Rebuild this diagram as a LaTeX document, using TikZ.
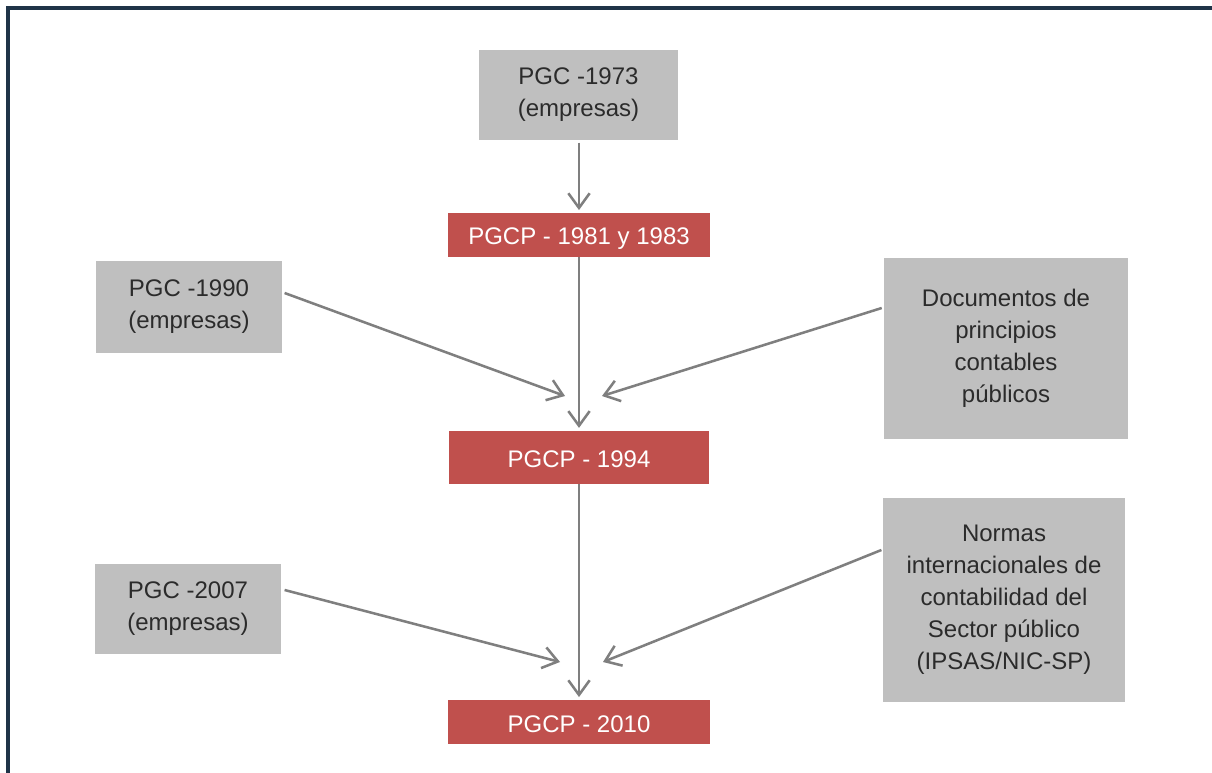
\documentclass[tikz,border=0pt]{standalone}
\usepackage{fontspec}
\setmainfont{Liberation Sans}
\usetikzlibrary{arrows.meta}
\definecolor{boxgray}{HTML}{BFBFBF}
\definecolor{boxred}{HTML}{C0504D}
\definecolor{linegray}{HTML}{7F7F7F}
\definecolor{textgray}{HTML}{2B2B2B}
\definecolor{framenavy}{HTML}{1F3448}
\begin{document}
\begin{tikzpicture}[
  x=0.75pt, y=-0.75pt,
  every node/.style={align=center, inner sep=0pt, font=\fontsize{18}{24}\selectfont},
  graybox/.style={fill=boxgray, text=textgray},
  redbox/.style={fill=boxred, text=white, text height=17pt, text depth=2pt},
  flow/.style={draw=linegray, line width=1.9pt, -{Straight Barb[length=11pt, width=16pt, line width=1.9pt]}}
]
\useasboundingbox (0,0) rectangle (1212,773);
\draw[framenavy, line width=2.3pt] (8,773) -- (8,8) -- (1212,8);

\node[graybox, minimum width=149pt, minimum height=67pt] (p73) at (578.5,95) {PGC -1973\\(empresas)};
\node[redbox, minimum width=197pt, minimum height=33pt] (p81) at (579,235) {PGCP - 1981 y 1983};
\node[graybox, minimum width=140pt, minimum height=69pt] (p90) at (189,307) {PGC -1990\\(empresas)};
\node[graybox, minimum width=183pt, minimum height=136pt] (doc) at (1006,348.5) {Documentos de\\principios\\contables\\públicos};
\node[redbox, minimum width=195pt, minimum height=40pt] (p94) at (579,457.5) {PGCP - 1994};
\node[graybox, minimum width=140pt, minimum height=67pt] (p07) at (188,609) {PGC -2007\\(empresas)};
\node[graybox, minimum width=182pt, minimum height=153pt] (nic) at (1004,600) {Normas\\internacionales de\\contabilidad del\\Sector público\\(IPSAS/NIC-SP)};
\node[redbox, minimum width=197pt, minimum height=33pt] (p10) at (579,722) {PGCP - 2010};

% puntas de las flechas
\coordinate (t90) at (565,396);
\coordinate (tdoc) at (602,396);
\coordinate (t07) at (560,662);
\coordinate (tnic) at (603,662);

\draw[flow, shorten <=2pt, shorten >=2pt] (p73.south -| p81.north) -- (p81.north);
\draw[flow, shorten >=2pt] (p81.south) -- (p94.north);
\draw[flow] ([shift={(2,-14)}]p90.east) -- (t90);
\draw[flow] ([shift={(-2,-40.5)}]doc.west) -- (tdoc);
\draw[flow, shorten >=2pt] (p94.south) -- (p10.north);
\draw[flow] ([shift={(3,-19)}]p07.east) -- (t07);
\draw[flow] ([shift={(-1,-50)}]nic.west) -- (tnic);
\end{tikzpicture}
\end{document}
